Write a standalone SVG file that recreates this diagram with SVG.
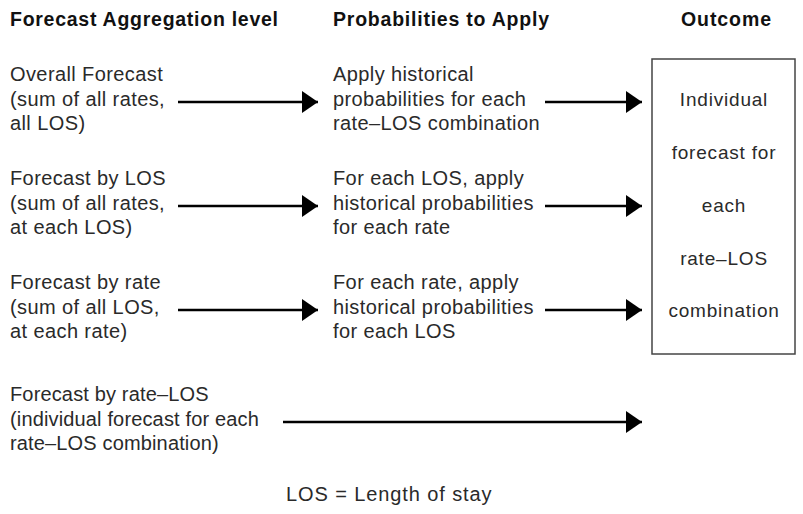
<svg xmlns="http://www.w3.org/2000/svg" width="803" height="514" viewBox="0 0 803 514">
<defs>
<marker id="ah" markerWidth="16" markerHeight="22" refX="16" refY="11" orient="auto" markerUnits="userSpaceOnUse">
<path d="M0,0 L16,11 L0,22 Z" fill="#000"/>
</marker>
<style>
.h{font-family:"Liberation Sans",Arial,sans-serif;font-weight:bold;font-size:19.5px;fill:#111}
.t{font-family:"Liberation Sans",Arial,sans-serif;font-size:20px;fill:#2a2a2a;letter-spacing:0.4px}
.n{letter-spacing:0.15px}
.o{font-family:"Liberation Sans",Arial,sans-serif;font-size:19px;fill:#2a2a2a;text-anchor:middle;letter-spacing:0.8px}
.a{stroke:#000;stroke-width:2.5;fill:none;marker-end:url(#ah)}
.box{fill:#fff;stroke:#444;stroke-width:1.5}
</style>
</defs>
<g id="headers">
<text class="h" x="10" y="26" textLength="268" lengthAdjust="spacing">Forecast Aggregation level</text>
<text class="h" x="333" y="26" textLength="216" lengthAdjust="spacing">Probabilities to Apply</text>
<text class="h" x="681" y="26" textLength="90" lengthAdjust="spacing">Outcome</text>
</g>
<g id="level1">
<text class="t" x="10" y="81">Overall Forecast</text>
<text class="t" x="10" y="105.5">(sum of all rates,</text>
<text class="t" x="10" y="130">all LOS)</text>
</g>
<g id="level2">
<text class="t" x="10" y="185">Forecast by LOS</text>
<text class="t" x="10" y="209.5">(sum of all rates,</text>
<text class="t" x="10" y="234">at each LOS)</text>
</g>
<g id="level3">
<text class="t" x="10" y="289">Forecast by rate</text>
<text class="t" x="10" y="313.5">(sum of all LOS,</text>
<text class="t" x="10" y="338">at each rate)</text>
</g>
<g id="level4">
<text class="t n" x="10" y="401">Forecast by rate–LOS</text>
<text class="t n" x="10" y="425.5">(individual forecast for each</text>
<text class="t n" x="10" y="450">rate–LOS combination)</text>
</g>
<g id="prob1">
<text class="t" x="333" y="81">Apply historical</text>
<text class="t" x="333" y="105.5">probabilities for each</text>
<text class="t" x="333" y="130">rate–LOS combination</text>
</g>
<g id="prob2">
<text class="t" x="333" y="185">For each LOS, apply</text>
<text class="t" x="333" y="209.5">historical probabilities</text>
<text class="t" x="333" y="234">for each rate</text>
</g>
<g id="prob3">
<text class="t" x="333" y="289">For each rate, apply</text>
<text class="t" x="333" y="313.5">historical probabilities</text>
<text class="t" x="333" y="338">for each LOS</text>
</g>
<g id="outcome">
<rect class="box" x="652" y="59" width="143" height="295"/>
<text class="o" x="724" y="106">Individual</text>
<text class="o" x="724" y="159">forecast for</text>
<text class="o" x="724" y="212">each</text>
<text class="o" x="724" y="264.5">rate–LOS</text>
<text class="o" x="724" y="317">combination</text>
</g>
<g id="connectors">
<line class="a" x1="178" y1="102" x2="318" y2="102"/>
<line class="a" x1="545" y1="102" x2="642" y2="102"/>
<line class="a" x1="178" y1="206" x2="318" y2="206"/>
<line class="a" x1="545" y1="206" x2="642" y2="206"/>
<line class="a" x1="178" y1="310" x2="318" y2="310"/>
<line class="a" x1="545" y1="310" x2="642" y2="310"/>
<line class="a" x1="283" y1="422" x2="642" y2="422"/>
</g>
<text class="t" x="286" y="501" textLength="206" lengthAdjust="spacing">LOS = Length of stay</text>
</svg>
